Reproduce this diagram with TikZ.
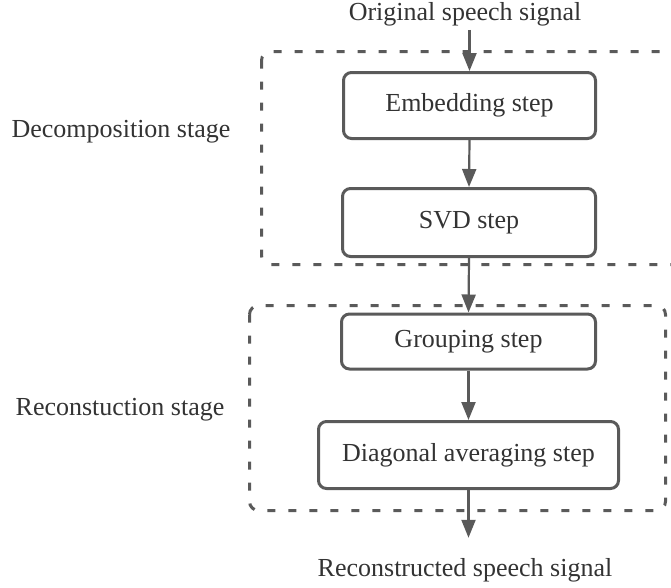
\documentclass[tikz,border=0pt]{standalone}
\usepackage{fontspec}
\setmainfont{Liberation Serif}
\usetikzlibrary{arrows.meta}
\definecolor{ln}{HTML}{5A5A5A}
\definecolor{tx}{HTML}{333333}
\begin{document}
\begin{tikzpicture}[x=1pt,y=-1pt,
  txt/.style={font=\fontsize{26}{31}\selectfont, text=tx, inner sep=0pt},
  stepbox/.style={txt, draw=ln, line width=3pt, rounded corners=8pt},
  stagebox/.style={draw=ln, line width=3pt, dash pattern=on 8pt off 13pt, rounded corners=9pt},
  arr/.style={draw=ln, line width=2.2pt, -{Triangle[length=18pt,width=14pt]}}]
\clip (0,0) rectangle (671,587);
\useasboundingbox (0,0) rectangle (671,587);
% stage frames
\draw[stagebox] (261.5,51.5) rectangle (720,264.5);
\draw[stagebox] (249.5,305.5) rectangle (665.5,510.5);
% texts
\node[txt, anchor=base] (orig) at (465,20) {Original speech signal};
\node[txt, anchor=base] (recon) at (465,576) {Reconstructed speech signal};
\node[txt, anchor=base] (dec) at (121,137) {Decomposition stage};
\node[txt, anchor=base] (rec) at (120,415) {Reconstuction stage};
% steps
\node[stepbox, minimum width=252pt, minimum height=66pt] (emb) at (469.5,105.5) {Embedding step};
\node[stepbox, minimum width=253pt, minimum height=68pt] (svd) at (469,222.5) {SVD step};
\node[stepbox, minimum width=254pt, minimum height=55pt] (grp) at (468.5,341.5) {Grouping step};
\node[stepbox, minimum width=300pt, minimum height=67pt] (diag) at (468.5,455) {Diagonal averaging step};
% connectors
\draw[arr, shorten <=4pt] (orig.south -| emb.north) -- (emb.north);
\draw[arr] (emb.south) -- (svd.north);
\draw[arr] (svd.south) -- (grp.north);
\draw[arr] (grp.south) -- (diag.north);
\draw[arr, shorten >=20pt] (diag.south) -- (recon.north -| diag.south);
\end{tikzpicture}
\end{document}
